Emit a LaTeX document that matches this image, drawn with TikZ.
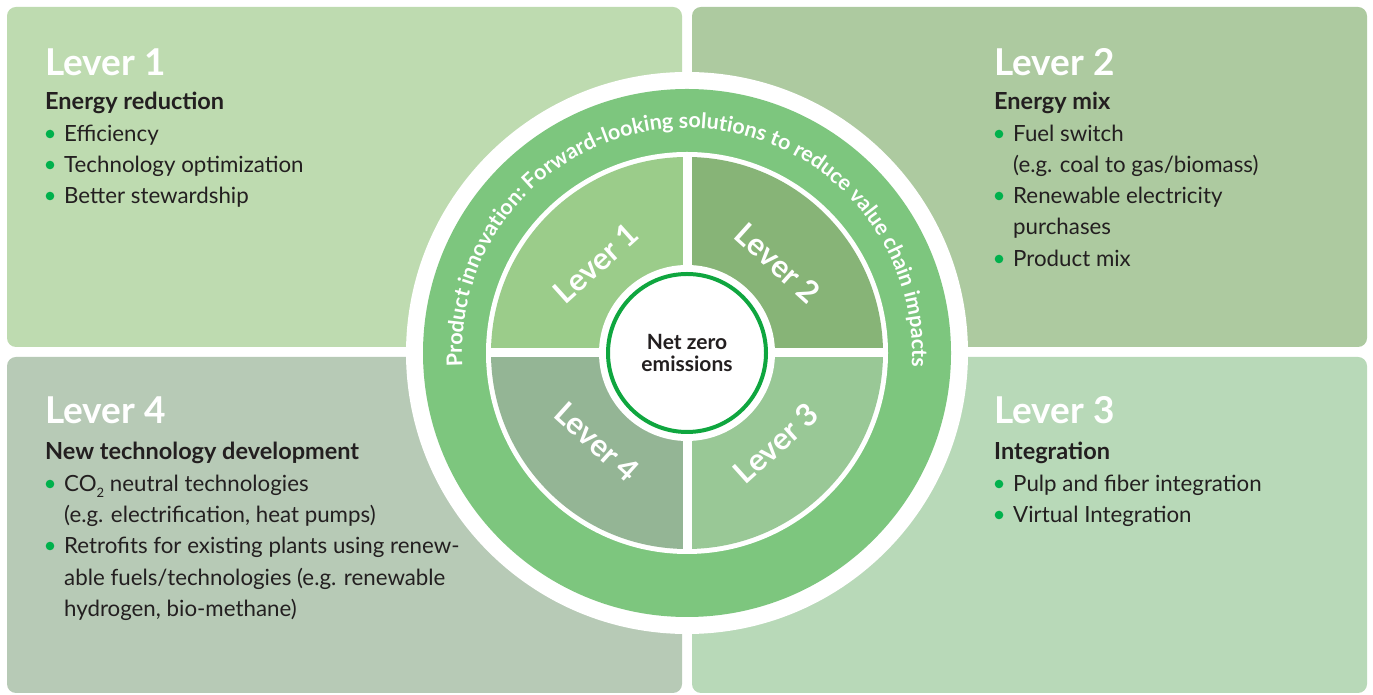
\documentclass[tikz,border=0pt]{standalone}
\usepackage{fontspec}
\setmainfont{Lato}
\usetikzlibrary{decorations.text}
\definecolor{boxA}{HTML}{BEDBB0}
\definecolor{boxB}{HTML}{ADCAA0}
\definecolor{boxC}{HTML}{B8D9B8}
\definecolor{boxD}{HTML}{B7CAB6}
\definecolor{ringgreen}{HTML}{7DC67E}
\definecolor{qA}{HTML}{9BCC8A}
\definecolor{qB}{HTML}{87B477}
\definecolor{qC}{HTML}{99C896}
\definecolor{qD}{HTML}{94B595}
\definecolor{centergreen}{HTML}{0FA63F}
\definecolor{bulletgreen}{HTML}{00B14C}
\definecolor{textdark}{HTML}{231F20}
\begin{document}
\begin{tikzpicture}[x=1pt,y=1pt,
  leverbox/.style={rounded corners=9pt},
  title/.style={anchor=base west, inner sep=0pt, text=white, font=\fontsize{37}{37}\selectfont\bfseries},
  head/.style={anchor=base west, inner sep=0pt, text=textdark, font=\fontsize{23.5}{23.5}\selectfont\bfseries},
  item/.style={anchor=base west, inner sep=0pt, text=textdark, font=\fontsize{22.3}{22.3}\selectfont},
  bul/.style={fill=bulletgreen},
  qlabel/.style={text=white, inner sep=0pt, font=\fontsize{31}{31}\selectfont\bfseries}]
\useasboundingbox (0,0) rectangle (1373,695);
\fill[white] (0,0) rectangle (1373,695);
% boxes
\fill[boxA, leverbox] (7,348) rectangle (682,688);
\fill[boxB, leverbox] (692,348) rectangle (1367,688);
\fill[boxD, leverbox] (7,2) rectangle (682,338);
\fill[boxC, leverbox] (692,2) rectangle (1367,338);
% wheel
\coordinate (c) at (687,342);
\fill[white] (c) circle (281);
\fill[ringgreen] (c) circle (264);
\fill[white] (c) circle (201);
\fill[qA] (c) -- ++(90:196) arc[start angle=90, end angle=180, radius=196] -- cycle;
\fill[qB] (c) -- ++(0:196) arc[start angle=0, end angle=90, radius=196] -- cycle;
\fill[qC] (c) -- ++(270:196) arc[start angle=270, end angle=360, radius=196] -- cycle;
\fill[qD] (c) -- ++(180:196) arc[start angle=180, end angle=270, radius=196] -- cycle;
\draw[white, line width=9pt] ([xshift=-201pt]c) -- ([xshift=201pt]c);
\draw[white, line width=9pt] ([yshift=-201pt]c) -- ([yshift=201pt]c);
\fill[white] (c) circle (88);
\draw[centergreen, line width=4pt] (c) circle (79);
\node[text=textdark, align=center, inner sep=0pt, font=\fontsize{21}{22}\selectfont\bfseries] (nz) at (c) {Net zero\\emissions};
% ring text
\path[decorate, decoration={text along path, text align=center,
  text={|\fontsize{21.5}{21.5}\selectfont\bfseries\color{white}|Product innovation: Forward-looking solutions to reduce value chain impacts}}]
  (c) ++(186:225) arc[start angle=186, end angle=-6, radius=225];
% quadrant labels
\node[qlabel, rotate=42] (q1) at (596,432) {Lever 1};
\node[qlabel, rotate=-42] (q2) at (778,432) {Lever 2};
\node[qlabel, rotate=42] (q3) at (776,252) {Lever 3};
\node[qlabel, rotate=-42] (q4) at (597,253) {Lever 4};
% Lever 1 text
\node[title] (l1t) at (45,619) {Lever 1};
\node[head] (l1h) at (45,585) {Energy reduction};
\fill[bul] (50,561) circle (4.3);
\node[item] (l1a) at (64,553) {Efficiency};
\fill[bul] (50,530) circle (4.3);
\node[item] (l1b) at (64,522) {Technology optimization};
\fill[bul] (50,499) circle (4.3);
\node[item] (l1c) at (64,491) {Better stewardship};
% Lever 2 text
\node[title] (l2t) at (994,619) {Lever 2};
\node[head] (l2h) at (994,585) {Energy mix};
\fill[bul] (999,561) circle (4.3);
\node[item] (l2a) at (1013,553) {Fuel switch};
\node[item] (l2b) at (1013,522) {(e.g. coal to gas/biomass)};
\fill[bul] (999,499) circle (4.3);
\node[item] (l2c) at (1013,491) {Renewable electricity};
\node[item] (l2d) at (1013,460) {purchases};
\fill[bul] (999,436) circle (4.3);
\node[item] (l2e) at (1013,428) {Product mix};
% Lever 4 text
\node[title] (l4t) at (45,271) {Lever 4};
\node[head] (l4h) at (45,235) {New technology development};
\fill[bul] (50,211) circle (4.3);
\node[item] (l4a) at (64,203) {CO\raisebox{-0.25em}{\fontsize{13}{13}\selectfont 2} neutral technologies};
\node[item] (l4b) at (64,172) {(e.g. electrification, heat pumps)};
\fill[bul] (50,149) circle (4.3);
\node[item] (l4c) at (64,141) {Retrofits for existing plants using renew-};
\node[item] (l4d) at (64,109) {able fuels/technologies (e.g. renewable};
\node[item] (l4e) at (64,78) {hydrogen, bio-methane)};
% Lever 3 text
\node[title] (l3t) at (994,271) {Lever 3};
\node[head] (l3h) at (994,235) {Integration};
\fill[bul] (999,211) circle (4.3);
\node[item] (l3a) at (1013,203) {Pulp and fiber integration};
\fill[bul] (999,180) circle (4.3);
\node[item] (l3b) at (1013,172) {Virtual Integration};
\end{tikzpicture}
\end{document}
